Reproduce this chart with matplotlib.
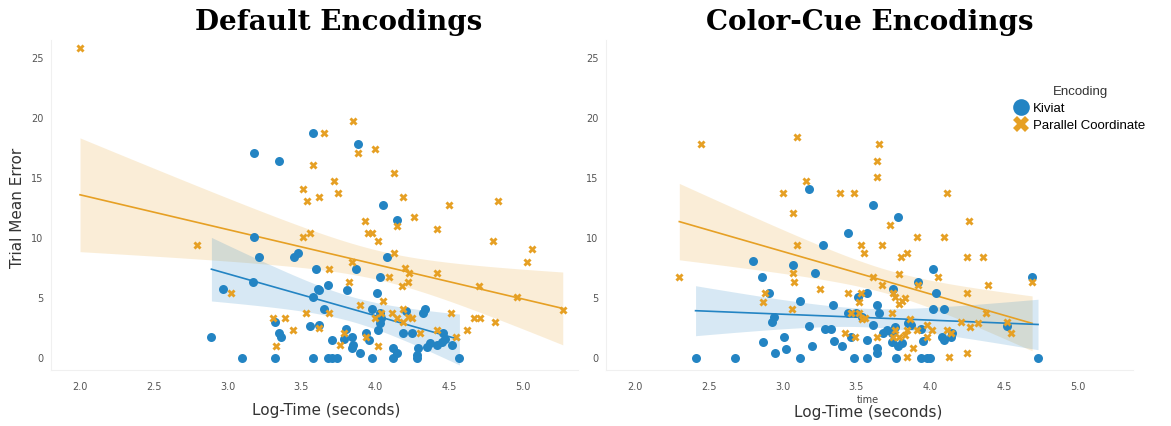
import numpy as np
import matplotlib.pyplot as plt
from matplotlib.lines import Line2D

# log-time (seconds) and trial mean error, per encoding and condition
default_kiviat_x = [3.58, 3.18, 3.35, 3.18, 3.21, 3.45, 3.48, 3.60, 3.17, 2.97, 3.61, 3.58, 2.89, 3.32,
                    3.56, 3.35, 3.36, 3.10, 3.32, 3.58, 3.88, 4.05, 4.15, 4.08, 3.87, 4.03, 3.68, 3.62,
                    3.81, 4.01, 3.65, 3.98, 4.03, 4.21, 4.34, 4.32, 4.04, 4.03, 3.62, 3.80, 4.02, 4.19,
                    4.25, 4.46, 3.71, 3.79, 3.84, 3.85, 3.94, 3.96, 3.84, 3.90, 4.12, 4.15, 4.29, 4.28,
                    4.35, 4.37, 4.42, 4.45, 4.47, 4.52, 3.68, 3.71, 3.74, 3.98, 4.12, 4.28, 4.57]
default_kiviat_y = [18.75, 17.1, 16.4, 10.1, 8.4, 8.4, 8.75, 7.4, 6.3, 5.75, 5.75, 5.1, 1.75, 3.0,
                    2.7, 2.1, 1.75, 0, 0, 0, 17.8, 12.75, 11.5, 8.4, 7.4, 6.75, 6.1, 5.7,
                    5.7, 5.4, 4.1, 4.1, 3.75, 3.9, 4.1, 3.75, 3.3, 2.9, 2.75, 2.4, 2.3, 2.1,
                    2.1, 2.1, 1.5, 1.6, 1.75, 1.1, 2.1, 1.5, 0.8, 0.4, 0.8, 0.4, 0.8, 0.25,
                    0.9, 1.25, 1.1, 1.3, 1.6, 1.1, 0, 0, 0, 0, 0, 0, 0]

default_parallel_x = [2.00, 2.79, 3.02, 3.58, 3.51, 3.54, 3.62, 3.56, 3.51, 3.31, 3.39, 3.53, 3.44, 3.33,
                      3.85, 3.65, 3.88, 4.00, 4.13, 3.72, 3.75, 4.19, 4.50, 4.83, 4.26, 3.93, 4.15, 4.42,
                      3.95, 3.98, 4.02, 4.80, 5.06, 5.03, 4.13, 3.84, 3.69, 4.20, 4.23, 4.42, 4.22, 4.18,
                      4.09, 3.82, 4.70, 4.96, 4.05, 3.90, 3.69, 4.00, 4.04, 4.11, 4.15, 4.19, 4.22, 4.25,
                      4.51, 4.67, 4.71, 4.81, 3.62, 4.42, 4.62, 4.19, 3.79, 3.76, 3.94, 4.02, 4.30, 4.55,
                      5.27]
default_parallel_y = [25.8, 9.4, 5.4, 16.1, 14.1, 13.1, 13.4, 10.4, 10.1, 3.3, 3.3, 3.75, 2.3, 1.0,
                      19.75, 18.75, 17.1, 17.4, 15.4, 14.75, 13.75, 13.4, 12.75, 13.1, 11.75, 11.4, 11.0, 10.75,
                      10.4, 10.4, 9.75, 9.75, 9.1, 8.0, 8.75, 8.0, 7.4, 7.5, 7.1, 7.1, 6.3, 6.0,
                      6.75, 6.3, 6.0, 5.1, 4.75, 4.4, 3.75, 3.3, 3.75, 3.75, 3.3, 4.1, 3.4, 3.3,
                      3.75, 3.3, 3.3, 3.0, 2.5, 2.3, 2.3, 3.0, 2.1, 1.1, 1.75, 1.0, 2.1, 1.75,
                      4.0]

cue_kiviat_x = [3.18, 3.44, 3.27, 2.80, 3.07, 2.86, 3.22, 2.91, 3.12, 3.34, 3.51, 3.57, 3.44, 3.50,
                2.94, 2.93, 3.18, 3.29, 3.33, 3.54, 2.87, 3.01, 3.20, 3.35, 3.40, 3.46, 3.57, 3.02,
                2.95, 2.41, 2.68, 3.12, 3.48, 3.57, 3.61, 3.78, 4.02, 3.92, 4.69, 3.75, 4.04, 3.64,
                3.65, 4.02, 4.09, 3.61, 3.71, 3.68, 3.76, 3.74, 3.85, 3.87, 3.94, 4.08, 4.09, 4.15,
                4.14, 4.52, 3.64, 3.64, 3.74, 3.78, 3.81, 3.95, 3.77, 3.94, 3.98, 4.00, 4.73]
cue_kiviat_y = [14.1, 10.4, 9.4, 8.1, 7.75, 6.75, 7.1, 5.4, 4.75, 4.4, 5.1, 5.4, 3.75, 3.75,
                3.4, 3.0, 2.7, 2.4, 2.4, 3.4, 1.3, 1.75, 1.0, 1.4, 1.0, 1.75, 1.5, 0.75,
                0.4, 0, 0, 0, 0, 0, 12.75, 11.75, 7.4, 6.3, 6.75, 5.75, 5.4, 4.4,
                3.75, 4.1, 4.1, 2.75, 2.3, 2.1, 2.6, 2.1, 2.9, 2.75, 2.4, 1.75, 1.5, 2.1,
                1.75, 2.7, 0.8, 0.4, 1.3, 1.0, 1.25, 1.4, 0, 0, 0, 0, 0]

cue_parallel_x = [2.45, 3.10, 3.16, 3.00, 3.39, 3.48, 3.07, 3.10, 3.53, 3.55, 2.30, 3.07, 3.08, 3.25,
                  2.88, 2.87, 3.44, 3.53, 3.52, 3.06, 3.46, 3.52, 3.56, 3.42, 3.49, 3.65, 3.64, 3.64,
                  4.11, 4.26, 3.73, 3.91, 4.09, 3.67, 3.80, 3.84, 4.25, 4.36, 3.79, 3.61, 4.05, 3.92,
                  3.67, 4.39, 4.69, 3.75, 4.25, 3.76, 3.83, 3.79, 3.81, 3.74, 4.38, 4.52, 3.86, 3.54,
                  3.76, 3.84, 3.91, 3.98, 4.01, 4.11, 4.14, 4.21, 4.27, 4.32, 4.55, 3.64, 3.75, 3.79,
                  3.83, 3.98, 3.88, 3.84, 4.13, 4.25]
cue_parallel_y = [17.8, 18.4, 14.75, 13.75, 13.75, 13.75, 12.1, 9.4, 9.4, 8.75, 6.75, 7.1, 6.3, 5.75,
                  5.4, 4.7, 5.4, 5.4, 4.7, 4.1, 3.75, 3.75, 3.3, 2.1, 1.75, 17.8, 16.4, 15.1,
                  13.75, 11.4, 11.1, 10.1, 10.1, 9.4, 8.4, 8.75, 8.4, 8.4, 7.0, 6.75, 6.75, 6.1,
                  6.1, 6.1, 6.3, 5.4, 5.4, 5.1, 5.0, 4.5, 4.75, 3.75, 3.75, 3.0, 3.25, 3.25,
                  2.3, 2.3, 2.3, 2.75, 2.3, 2.3, 2.1, 3.0, 2.6, 2.9, 2.1, 1.75, 1.75, 1.75,
                  1.9, 1.75, 0.8, 0.1, 0.1, 0.4]

blue = '#2384c3'
orange = '#e6a024'
x_ticks = [2.0, 2.5, 3.0, 3.5, 4.0, 4.5, 5.0]
y_ticks = [0, 5, 10, 15, 20, 25]


def fit_with_band(ax, x, y, color):
    # least-squares line with a 95% confidence band for the mean
    x = np.asarray(x, float)
    y = np.asarray(y, float)
    n = len(x)
    slope, intercept = np.polyfit(x, y, 1)
    resid = y - (slope * x + intercept)
    s = np.sqrt(np.sum(resid ** 2) / (n - 2))
    sxx = np.sum((x - x.mean()) ** 2)
    grid = np.linspace(x.min(), x.max(), 100)
    fit = slope * grid + intercept
    half = 1.99 * s * np.sqrt(1.0 / n + (grid - x.mean()) ** 2 / sxx)
    ax.fill_between(grid, fit - half, fit + half, color=color, alpha=0.18, lw=0, zorder=1)
    ax.plot(grid, fit, color=color, lw=1.2, zorder=3)


def panel(ax, kx, ky, px, py):
    fit_with_band(ax, px, py, orange)
    fit_with_band(ax, kx, ky, blue)
    ax.scatter(kx, ky, s=42, color=blue, marker='o', linewidths=0, zorder=4)
    ax.scatter(px, py, s=34, color=orange, marker='X', linewidths=0, zorder=4)
    ax.set_xlim(1.8, 5.37)
    ax.set_ylim(-1.0, 26.5)
    ax.set_xticks(x_ticks)
    ax.set_xticklabels([f'{t:.1f}' for t in x_ticks])
    ax.set_yticks(y_ticks)
    ax.tick_params(length=0, labelsize=7, colors='#555555')
    ax.tick_params(axis='x', pad=9)
    ax.tick_params(axis='y', pad=5)
    for side in ['top', 'right']:
        ax.spines[side].set_visible(False)
    for side in ['left', 'bottom']:
        ax.spines[side].set_color('#f0f0f0')


fig = plt.figure(figsize=(11.71, 4.26), dpi=100)
ax1 = fig.add_axes([50.5 / 1171, 56 / 426, 527 / 1171, 330 / 426])
ax2 = fig.add_axes([605.5 / 1171, 56 / 426, 527 / 1171, 330 / 426])

panel(ax1, default_kiviat_x, default_kiviat_y, default_parallel_x, default_parallel_y)
panel(ax2, cue_kiviat_x, cue_kiviat_y, cue_parallel_x, cue_parallel_y)

# panel titles
fig.text(339 / 1171, 1 - 22 / 426, 'Default Encodings', fontsize=20, fontweight='bold',
         family='DejaVu Serif', ha='center', va='center')
fig.text(870 / 1171, 1 - 22 / 426, 'Color-Cue Encodings', fontsize=20, fontweight='bold',
         family='DejaVu Serif', ha='center', va='center')

fig.text(18 / 1171, 1 - 208 / 426, 'Trial Mean Error', fontsize=11, color='#333333',
         rotation=90, ha='center', va='center')
fig.text(326 / 1171, 1 - 410 / 426, 'Log-Time (seconds)', fontsize=11, color='#333333',
         ha='center', va='center')
fig.text(868 / 1171, 1 - 400 / 426, 'time', fontsize=7, color='#444444', ha='center', va='center')
fig.text(868 / 1171, 1 - 412 / 426, 'Log-Time (seconds)', fontsize=11, color='#333333',
         ha='center', va='center')

handles = [
    Line2D([], [], marker='o', color=blue, ls='none', markersize=12, markeredgewidth=0),
    Line2D([], [], marker='X', color=orange, ls='none', markersize=11, markeredgewidth=0),
]
leg = ax2.legend(handles, ['Kiviat', 'Parallel Coordinate'], title='Encoding',
                 loc='upper left', bbox_to_anchor=(1003 / 1171, 1 - 74 / 426),
                 bbox_transform=fig.transFigure, frameon=False,
                 prop={'family': 'Liberation Sans', 'size': 9.5},
                 handletextpad=0.4, labelspacing=0.35, handlelength=1.0)
leg.get_title().set_fontsize(9.5)
leg.get_title().set_family('Liberation Sans')
leg.get_title().set_color('#333333')

fig.savefig('out.png', dpi=100, facecolor='white')
